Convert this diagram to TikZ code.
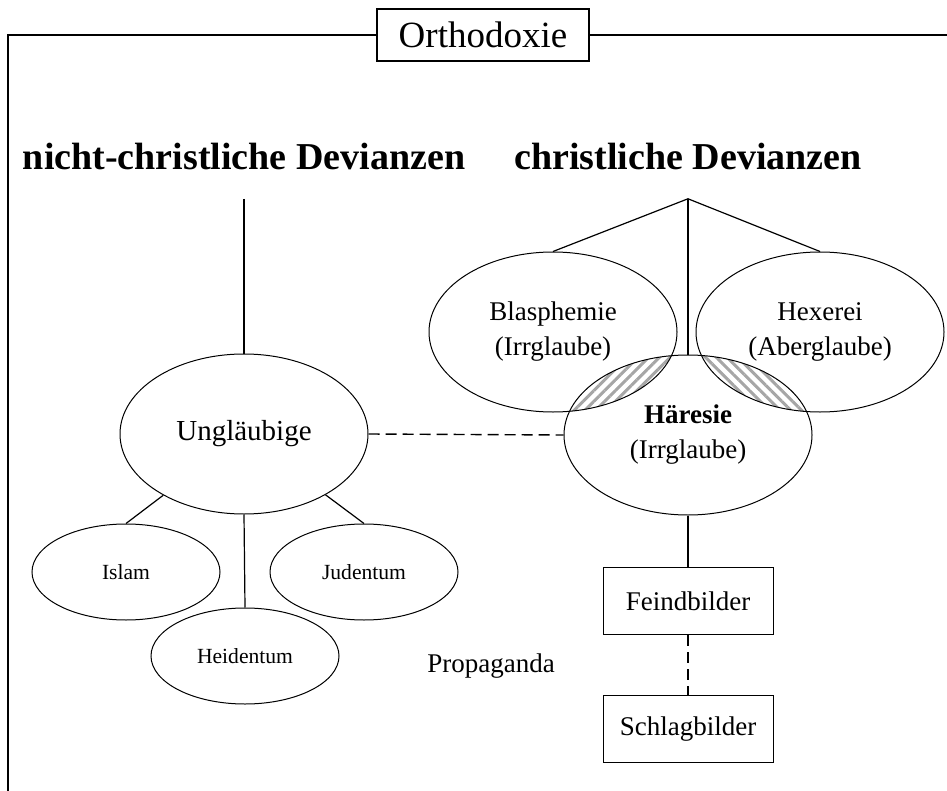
\documentclass[tikz,border=0pt]{standalone}
\usepackage{fontspec}
\setmainfont{Liberation Serif}
\usetikzlibrary{shapes.geometric, patterns.meta, backgrounds}
\tikzstyle{bubble} = [ellipse, draw, line width=0.5pt, inner sep=0pt, minimum width=124pt, minimum height=80pt, align=center, font=\fontsize{13.5}{17.5}\selectfont]
\tikzstyle{smallbubble} = [bubble, minimum width=94pt, minimum height=48pt, font=\fontsize{10.8}{13}\selectfont]
\tikzstyle{box} = [rectangle, draw, line width=0.5pt, minimum width=85pt, minimum height=33.5pt, font=\fontsize{13.5}{16}\selectfont]
\tikzstyle{heading} = [font=\bfseries\fontsize{19}{23}\selectfont, anchor=base, inner ysep=14pt]
\tikzstyle{link} = [draw, line width=0.6pt]
\tikzstyle{dashlink} = [link, line width=0.7pt, dash pattern=on 5.5pt off 3pt]
\tikzstyle{hatch} = [pattern={Lines[angle=#1, distance=3.8pt, line width=1.5pt]}, pattern color=gray!70]

\begin{document}
\begin{tikzpicture}[x=0.5pt, y=-0.5pt]
	\useasboundingbox (0,0) rectangle (947,791);
	% Rahmen
	\node[draw, line width=0.8pt, fill=white, minimum width=106pt, minimum height=26pt, font=\fontsize{18.5}{22}\selectfont] (ortho) at (483,35) {Orthodoxie};
	\draw[line width=0.8pt] (ortho.west) -- (8,35) -- (8,791);
	\draw[line width=0.8pt] (ortho.east) -- (947,35);
	% Ueberschriften
	\node[heading] (nchr) at (244,170) {nicht-christliche Devianzen};
	\node[heading] (chr) at (688,170) {christliche Devianzen};
	% nicht-christlich
	\node[bubble, font=\fontsize{14.5}{17}\selectfont] (ungl) at (244,434) {Ungläubige};
	\node[smallbubble] (islam) at (126,572) {Islam};
	\node[smallbubble] (juden) at (364,572) {Judentum};
	\node[smallbubble] (heiden) at (245,656) {Heidentum};
	% christlich
	\node[bubble] (blas) at (553,332) {Blasphemie\\(Irrglaube)};
	\node[bubble] (hex) at (820,332) {Hexerei\\(Aberglaube)};
	\node[bubble] (haer) at (688,435) {\textbf{Häresie}\\(Irrglaube)};
	\node[box] (feind) at (688,601) {Feindbilder};
	\node[box] (schlag) at (688,729) {Schlagbilder};
	\node[font=\fontsize{13.5}{16}\selectfont] (prop) at (491,666) {Propaganda};
	% Schnittmengen
	\begin{scope}[on background layer]
		\begin{scope}
			\clip (blas.center) ellipse [x radius=124, y radius=80];
			\fill[hatch=45] (haer.center) ellipse [x radius=124, y radius=80];
		\end{scope}
		\begin{scope}
			\clip (hex.center) ellipse [x radius=124, y radius=80];
			\fill[hatch=-45] (haer.center) ellipse [x radius=124, y radius=80];
		\end{scope}
	\end{scope}
	% Verbindungen
	\path[link] (nchr.south) -- (ungl.north);
	\path[link] (ungl) -- (islam.north);
	\path[link] (ungl) -- (juden.north);
	\path[link] (ungl.south) -- (heiden.north);
	\path[link] (chr.south) -- (blas.north);
	\path[link] (chr.south) -- (haer.north);
	\path[link] (chr.south) -- (hex.north);
	\path[dashlink] (ungl.east) -- (haer.west);
	\path[link] (haer.south) -- (feind.north);
	\path[dashlink] (feind.south) -- (schlag.north);
\end{tikzpicture}
\end{document}
